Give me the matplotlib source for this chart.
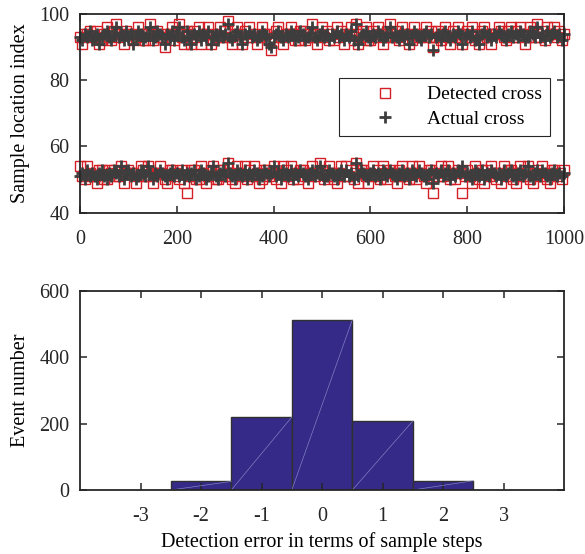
import matplotlib
matplotlib.use("Agg")
import matplotlib.pyplot as plt
import numpy as np

plt.rcParams['font.family'] = ['Liberation Serif', 'DejaVu Serif']
plt.rcParams['axes.unicode_minus'] = False

# sample index (every 5th sample shown)
samples = np.arange(0, 1001, 5)

upper_actual = [
    93, 92, 94, 93, 95, 92, 93, 94, 91, 93,
    94, 95, 93, 92, 94, 96, 93, 94, 92, 95,
    93, 94, 91, 93, 95, 94, 92, 93, 94, 96,
    92, 93, 95, 94, 93, 91, 94, 93, 95, 92,
    94, 96, 93, 92, 95, 93, 91, 94, 93, 95,
    92, 94, 93, 95, 91, 93, 94, 92, 95, 93,
    94, 97, 93, 92, 94, 95, 93, 91, 94, 93,
    95, 93, 94, 92, 93, 95, 94, 93, 91, 90,
    93, 94, 95, 93, 92, 94, 93, 95, 94, 92,
    93, 95, 94, 92, 93, 94, 96, 93, 92, 94,
    95, 93, 94, 92, 94, 93, 95, 93, 94, 92,
    94, 93, 95, 92, 97, 91, 93, 94, 95, 93,
    92, 94, 93, 95, 94, 92, 93, 94, 96, 93,
    94, 93, 92, 95, 93, 94, 91, 93, 95, 94,
    93, 92, 94, 95, 93, 94, 89, 93, 94, 92,
    94, 95, 93, 92, 94, 93, 95, 94, 91, 93,
    94, 93, 95, 92, 93, 91, 94, 95, 93, 94,
    92, 94, 93, 95, 94, 93, 92, 94, 95, 93,
    94, 93, 95, 94, 92, 93, 95, 94, 93, 96,
    93, 94, 92, 95, 93, 94, 95, 93, 94, 92,
    94]

upper_detected = [
    93, 91, 94, 94, 95, 93, 93, 95, 91, 92,
    94, 96, 93, 92, 95, 97, 93, 94, 91, 95,
    94, 94, 92, 93, 96, 94, 92, 92, 94, 97,
    92, 94, 95, 93, 93, 90, 94, 94, 96, 92,
    95, 97, 93, 91, 95, 94, 91, 95, 93, 96,
    91, 94, 94, 96, 91, 92, 94, 93, 96, 93,
    95, 98, 93, 91, 94, 96, 94, 91, 95, 93,
    96, 93, 94, 91, 93, 96, 94, 94, 92, 89,
    93, 95, 96, 93, 91, 94, 94, 96, 94, 92,
    92, 95, 95, 92, 93, 94, 97, 93, 91, 94,
    96, 93, 95, 92, 94, 92, 96, 93, 95, 91,
    94, 94, 96, 92, 97, 91, 93, 95, 96, 92,
    92, 95, 93, 96, 94, 91, 93, 95, 97, 93,
    95, 93, 92, 96, 94, 94, 91, 92, 96, 94,
    93, 93, 94, 96, 93, 95, 90, 93, 95, 92,
    94, 96, 93, 91, 95, 93, 96, 94, 91, 94,
    95, 93, 96, 92, 94, 91, 95, 96, 93, 94,
    91, 94, 94, 96, 95, 93, 92, 95, 96, 93,
    95, 93, 96, 94, 91, 93, 96, 95, 93, 97,
    93, 95, 92, 96, 94, 94, 96, 93, 95, 92,
    94]

lower_actual = [
    51, 52, 50, 53, 51, 52, 51, 50, 52, 53,
    51, 50, 52, 51, 53, 52, 51, 54, 50, 52,
    53, 51, 52, 50, 51, 53, 52, 51, 54, 52,
    50, 52, 51, 53, 52, 51, 50, 52, 53, 51,
    52, 51, 53, 50, 52, 51, 52, 53, 50, 51,
    53, 52, 50, 51, 52, 54, 51, 50, 52, 53,
    51, 55, 52, 51, 50, 53, 52, 51, 53, 50,
    52, 51, 53, 52, 50, 51, 53, 52, 51, 52,
    54, 51, 52, 50, 53, 52, 51, 53, 50, 52,
    51, 53, 52, 51, 50, 52, 53, 51, 52, 54,
    52, 50, 51, 53, 52, 51, 50, 52, 53, 51,
    53, 51, 52, 50, 55, 51, 53, 52, 51, 50,
    52, 53, 51, 52, 50, 53, 52, 51, 53, 52,
    51, 50, 52, 53, 51, 52, 50, 53, 52, 51,
    53, 52, 51, 50, 52, 53, 49, 52, 51, 53,
    51, 52, 53, 50, 52, 51, 53, 52, 54, 51,
    52, 51, 50, 53, 52, 51, 53, 50, 52, 51,
    53, 52, 51, 52, 50, 53, 51, 52, 53, 51,
    50, 52, 53, 51, 52, 54, 51, 50, 52, 53,
    51, 53, 52, 51, 50, 52, 53, 51, 52, 51,
    52]

lower_detected = [
    54, 51, 50, 54, 52, 51, 51, 49, 53, 53,
    50, 50, 53, 52, 53, 51, 51, 54, 49, 52,
    53, 52, 52, 49, 51, 54, 53, 51, 54, 51,
    49, 52, 52, 54, 52, 50, 49, 53, 53, 51,
    52, 50, 53, 49, 46, 51, 53, 53, 50, 50,
    54, 52, 49, 51, 53, 54, 50, 50, 53, 53,
    51, 55, 52, 50, 49, 54, 52, 51, 54, 50,
    53, 51, 54, 52, 49, 50, 53, 53, 51, 52,
    54, 50, 52, 49, 54, 53, 51, 54, 50, 52,
    50, 53, 53, 51, 49, 52, 54, 51, 52, 55,
    53, 50, 51, 54, 52, 50, 49, 52, 54, 51,
    54, 51, 53, 50, 55, 49, 53, 53, 51, 49,
    52, 54, 51, 53, 50, 54, 52, 50, 53, 52,
    51, 49, 53, 54, 51, 52, 50, 54, 52, 50,
    54, 52, 51, 49, 53, 53, 46, 52, 51, 54,
    51, 53, 54, 50, 52, 50, 53, 52, 46, 51,
    53, 51, 49, 54, 52, 50, 53, 49, 53, 51,
    54, 52, 50, 52, 49, 54, 51, 53, 53, 50,
    49, 52, 54, 51, 53, 54, 50, 49, 52, 53,
    51, 54, 52, 50, 49, 53, 53, 51, 52, 50,
    53]

# histogram of detection error
err_steps = [-2, -1, 0, 1, 2]
err_counts = [26, 220, 513, 208, 28]

FS = 14.5
spine_col = '#262626'

fig = plt.figure(figsize=(5.85, 5.54), dpi=100)
ax1 = fig.add_axes([0.1368, 0.6164, 0.8274, 0.3583])
ax2 = fig.add_axes([0.1368, 0.1155, 0.8274, 0.3592])

# --- top: crossing locations
det_kw = dict(ls='none', marker='s', ms=6.5, mfc='none', mec='#d41f26', mew=1.0, clip_on=False)
act_kw = dict(ls='none', marker='+', ms=9, mec='#3d3d3d', mew=2.0, clip_on=False)
ax1.plot(samples, upper_detected, label='Detected cross', **det_kw)
ax1.plot(samples, lower_detected, **det_kw)
ax1.plot(samples, upper_actual, label='Actual cross', **act_kw)
ax1.plot(samples, lower_actual, **act_kw)
ax1.set_xlim(0, 1000)
ax1.set_ylim(40, 100)
ax1.set_xticks(range(0, 1001, 200))
ax1.set_yticks(range(40, 101, 20))
ax1.set_ylabel('Sample location index', fontsize=FS, labelpad=6.5)
leg = ax1.legend(loc='upper right', bbox_to_anchor=(0.971, 0.678), borderaxespad=0,
                 fontsize=14, fancybox=False, framealpha=1, edgecolor=spine_col,
                 handlelength=4, handletextpad=0.15, borderpad=0.4, labelspacing=0.36)
leg.get_frame().set_linewidth(0.8)

# --- bottom: error histogram
bars = ax2.bar(err_steps, err_counts, width=1.0, color='#352a87',
               edgecolor='#303030', linewidth=1.0)
for b in bars:
    x0 = b.get_x()
    ax2.plot([x0, x0 + b.get_width()], [0, b.get_height()], color='#7f7fc4', lw=0.5)
ax2.set_xlim(-4, 4)
ax2.set_ylim(0, 600)
ax2.set_xticks(range(-3, 4))
ax2.set_yticks(range(0, 601, 200))
ax2.set_ylabel('Event number', fontsize=FS, labelpad=6.5)
ax2.set_xlabel('Detection error in terms of sample steps', fontsize=FS)

for ax in (ax1, ax2):
    ax.tick_params(direction='in', top=True, right=True, length=5, width=1.1,
                   labelsize=FS, colors=spine_col)
    ax.tick_params(axis='x', pad=12.5)
    ax.tick_params(axis='y', pad=7.5)
    for s in ax.spines.values():
        s.set_linewidth(1.3)
        s.set_color(spine_col)

fig.savefig('out.png', dpi=100)
